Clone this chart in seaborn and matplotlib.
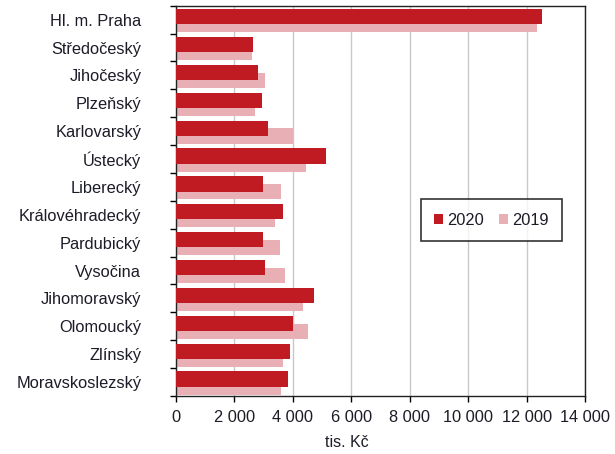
import matplotlib
matplotlib.use("Agg")
import matplotlib.pyplot as plt
import seaborn as sns
import pandas as pd
import numpy as np

categories = ["Hl. m. Praha", "Středočeský", "Jihočeský", "Plzeňský", "Karlovarský",
              "Ústecký", "Liberecký", "Královéhradecký", "Pardubický", "Vysočina",
              "Jihomoravský", "Olomoucký", "Zlínský", "Moravskoslezský"]
values_2020 = [12530, 2640, 2820, 2930, 3160, 5130, 2990, 3670, 2990, 3050, 4730, 4010, 3890, 3840]
values_2019 = [12350, 2590, 3050, 2700, 4000, 4450, 3610, 3390, 3550, 3720, 4350, 4510, 3660, 3610]
xticks = [0, 2000, 4000, 6000, 8000, 10000, 12000, 14000]
xtick_labels = ["0", "2 000", "4 000", "6 000", "8 000", "10 000", "12 000", "14 000"]

c2020 = "#C01A22"
c2019 = "#E8B0B4"
text_color = "#1c1c28"

sns.set_theme(style="white")
plt.rcParams["font.family"] = ["Liberation Sans", "DejaVu Sans"]

fig = plt.figure(figsize=(6.15, 4.54), dpi=100)
ax = fig.add_axes([176/615, 1-396/454, (585-176)/615, (396-5.7)/454])

idx = np.arange(len(categories))
df19 = pd.DataFrame({"v": values_2019, "pos": idx + 0.175})
df20 = pd.DataFrame({"v": values_2020, "pos": idx - 0.107})

sns.barplot(data=df19, x="v", y="pos", orient="h", native_scale=True,
            color=c2019, saturation=1, width=0.55, ax=ax, label="2019", zorder=2,
            linewidth=0, edgecolor=c2019)
sns.barplot(data=df20, x="v", y="pos", orient="h", native_scale=True,
            color=c2020, saturation=1, width=0.55, ax=ax, label="2020", zorder=3,
            linewidth=0, edgecolor=c2020)

ax.set_ylim(len(categories) - 0.5, -0.5)
ax.set_xlim(0, 14000)

ax.set_yticks(np.arange(-0.5, len(categories), 1.0))
ax.set_yticklabels([])
ax.set_yticks(idx, minor=True)
ax.set_yticklabels(categories, minor=True, fontsize=11.8, color=text_color)
ax.tick_params(axis="y", which="major", direction="out", length=4, width=1, color="black", left=True)
ax.tick_params(axis="y", which="minor", length=0, pad=25)

ax.set_xticks(xticks)
ax.set_xticklabels(xtick_labels, fontsize=11.8, color=text_color)
ax.tick_params(axis="x", which="major", direction="out", length=4, width=1, color="black", bottom=True, pad=6)

ax.xaxis.grid(True, color="#C8C8C8", linewidth=1.0, zorder=0)
ax.yaxis.grid(False)
ax.set_axisbelow(True)

for s in ax.spines.values():
    s.set_visible(True)
    s.set_color("#222222")
    s.set_linewidth(1.0)

ax.set_ylabel("")
ax.set_xlabel("tis. Kč", fontsize=11.5, color=text_color)
ax.xaxis.set_label_coords(0.418, -0.1)

handles, labels = ax.get_legend_handles_labels()
order = [labels.index("2020"), labels.index("2019")]
leg = ax.legend([handles[i] for i in order], [labels[i] for i in order],
                loc="center", bbox_to_anchor=((491.5-176)/409, 1-(220-5.7)/390.3),
                ncol=2, frameon=True, fancybox=False, edgecolor="black",
                fontsize=11.8, handlelength=0.55, handleheight=0.55, handletextpad=0.25,
                columnspacing=0.9, borderpad=0.8)
leg.get_frame().set_linewidth(1.2)
for t in leg.get_texts():
    t.set_color(text_color)

fig.savefig("out.png", dpi=100)
